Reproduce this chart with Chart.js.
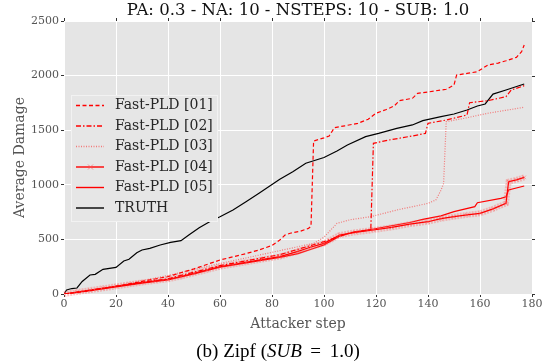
<!DOCTYPE html>
<html>
<head>
<meta charset="utf-8">
<script src="https://cdn.jsdelivr.net/npm/chart.js@4.4.1/dist/chart.umd.min.js"></script>
<style>
  body { margin: 0; background: #fff; }
  #wrap { position: relative; width: 550px; height: 364px; }
  #title { position: absolute; left: 64px; width: 468px; top: 0px; text-align: center;
           font: 16.5px "DejaVu Serif"; color: #111; white-space: nowrap; }
  #caption { position: absolute; left: 0; width: 556px; top: 340px; text-align: center;
             font: 19px "Liberation Serif"; color: #000; white-space: nowrap; }
</style>
</head>
<body>
<div id="wrap">
  <canvas id="myChart" width="550" height="364"></canvas>
  <div id="title">PA: 0.3 - NA: 10 - NSTEPS: 10 - SUB: 1.0</div>
  <div id="caption">(b) Zipf (<i>SUB</i>&thinsp; = &thinsp;1.0)</div>
</div>
<script>
// values (attacker step, average damage)
var labels = ['Fast-PLD [01]', 'Fast-PLD [02]', 'Fast-PLD [03]', 'Fast-PLD [04]', 'Fast-PLD [05]', 'TRUTH'];

var steps01 = [0, 10, 20, 30, 40, 50, 60, 70, 75, 80, 83, 85, 87, 91, 94, 95, 96, 100, 102, 104, 108, 113, 117, 120, 124, 127, 129, 134, 136, 140, 147, 150, 151, 155, 159, 163, 167, 170, 174, 176, 177];
var dmg01   = [0, 30, 70, 115, 160, 230, 311, 370, 403, 445, 494, 540, 556, 575, 601, 620, 1401, 1430, 1447, 1523, 1540, 1563, 1600, 1655, 1690, 1722, 1770, 1792, 1838, 1850, 1875, 1914, 2005, 2020, 2036, 2097, 2115, 2136, 2167, 2219, 2280];

var steps02 = [0, 20, 40, 60, 83, 100, 110, 118, 119, 125, 134, 139, 140, 147, 155, 156, 163, 170, 172, 177];
var dmg02   = [0, 70, 140, 260, 360, 480, 560, 590, 1380, 1410, 1447, 1471, 1563, 1593, 1639, 1752, 1770, 1807, 1868, 1908];

var steps03 = [0, 20, 40, 60, 70, 83, 96, 100, 102, 105, 110, 118, 128, 140, 143, 145, 146, 147, 154, 163, 177];
var dmg03   = [0, 75, 170, 280, 330, 397, 464, 520, 571, 647, 680, 708, 769, 830, 861, 950, 1013, 1578, 1609, 1655, 1710];

var steps04 = [0, 5, 10, 15, 20, 25, 30, 35, 40, 45, 50, 55, 60, 65, 70, 76, 83, 90, 95, 100, 106, 112, 119, 126, 133, 140, 145, 150, 155, 160, 165, 170, 171, 174, 177];
var dmg04   = [0, 18, 35, 52, 70, 88, 105, 120, 135, 160, 190, 220, 250, 270, 290, 315, 342, 390, 430, 464, 540, 565, 586, 610, 640, 662, 690, 708, 725, 739, 780, 830, 1028, 1045, 1068];

var steps05 = [0, 10, 20, 30, 40, 50, 60, 70, 83, 90, 95, 100, 106, 112, 119, 126, 133, 138, 145, 150, 158, 159, 168, 170, 171, 177];
var dmg05   = [0, 30, 65, 100, 128, 185, 245, 285, 335, 370, 410, 450, 530, 570, 595, 625, 655, 683, 715, 754, 800, 836, 876, 891, 952, 989];

var stepsTruth = [0, 1, 3, 5, 7, 10, 12, 15, 20, 23, 25, 28, 30, 33, 37, 41, 45, 48, 52, 56, 60, 65, 70, 75, 83, 88, 93, 100, 105, 109, 116, 121, 128, 134, 138, 145, 150, 155, 159, 162, 165, 170, 177];
var dmgTruth   = [0, 37, 50, 55, 115, 174, 180, 226, 244, 302, 318, 378, 403, 418, 449, 473, 488, 540, 607, 662, 708, 769, 845, 922, 1050, 1120, 1197, 1250, 1310, 1364, 1441, 1471, 1517, 1548, 1587, 1624, 1648, 1685, 1722, 1740, 1831, 1868, 1923];

var xTicks = [0, 20, 40, 60, 80, 100, 120, 140, 160, 180];
var yTicks = [0, 500, 1000, 1500, 2000, 2500];

function pts(xs, ys) {
    return xs.map(function (x, i) { return {x: x, y: ys[i]}; });
}

Chart.defaults.font.family = 'DejaVu Serif';

// wide light band under [04] that stands for its dense x markers
var bandPlugin = {
    id: 'band',
    beforeDatasetDraw: function (chart, args) {
        if (args.index !== 3) return;
        var meta = args.meta, ctx = chart.ctx;
        ctx.save();
        ctx.beginPath();
        meta.data.forEach(function (p, i) { if (i === 0) ctx.moveTo(p.x, p.y); else ctx.lineTo(p.x, p.y); });
        ctx.strokeStyle = 'rgba(255,90,90,0.35)';
        ctx.lineWidth = 6;
        ctx.setLineDash([2, 1]);
        ctx.stroke();
        ctx.restore();
    }
};

// legend inside the axes + small ticks on top and right
var boxPlugin = {
    id: 'box',
    afterDatasetsDraw: function (chart) {
        var ctx = chart.ctx, a = chart.chartArea;
        ctx.save();
        ctx.strokeStyle = '#333';
        ctx.lineWidth = 1;
        xTicks.forEach(function (t) {
            var x = Math.round(chart.scales.x.getPixelForValue(t)) + 0.5;
            ctx.beginPath(); ctx.moveTo(x, a.top); ctx.lineTo(x, a.top - 3); ctx.stroke();
        });
        yTicks.forEach(function (t) {
            var y = Math.round(chart.scales.y.getPixelForValue(t)) + 0.5;
            ctx.beginPath(); ctx.moveTo(a.right, y); ctx.lineTo(a.right + 3, y); ctx.stroke();
        });
        // legend
        var bx = 71, by = 95, bw = 146, bh = 126;
        ctx.fillStyle = '#e6e6e6';
        ctx.fillRect(bx, by, bw, bh);
        ctx.strokeStyle = '#f2f2f2';
        ctx.strokeRect(bx + 0.5, by + 0.5, bw, bh);
        ctx.font = '14px "DejaVu Serif"';
        ctx.textBaseline = 'middle';
        chart.data.datasets.forEach(function (ds, i) {
            var y = 105.5 + i * 20.5;
            ctx.beginPath();
            ctx.setLineDash(ds.borderDash || []);
            ctx.strokeStyle = ds.borderColor;
            ctx.lineWidth = ds.borderWidth + 0.2;
            ctx.moveTo(76, y); ctx.lineTo(104, y);
            ctx.stroke();
            ctx.setLineDash([]);
            if (i === 3) {
                ctx.strokeStyle = 'rgba(255,80,80,0.6)';
                ctx.lineWidth = 1;
                ctx.beginPath();
                ctx.moveTo(88, y - 2.5); ctx.lineTo(93, y + 2.5);
                ctx.moveTo(93, y - 2.5); ctx.lineTo(88, y + 2.5);
                ctx.stroke();
            }
            ctx.fillStyle = '#262626';
            ctx.fillText(ds.label, 115, y);
        });
        ctx.restore();
    }
};

var ctx = document.getElementById('myChart').getContext('2d');
var chart = new Chart(ctx, {
    type: 'line',
    data: {
        datasets: [
            {label: labels[0], data: pts(steps01, dmg01), borderColor: '#ff0000', borderWidth: 1.2, borderDash: [4, 2.5], pointRadius: 0},
            {label: labels[1], data: pts(steps02, dmg02), borderColor: '#ff0000', borderWidth: 1.2, borderDash: [5, 2, 1.5, 2], pointRadius: 0},
            {label: labels[2], data: pts(steps03, dmg03), borderColor: '#f27a7a', borderWidth: 1.2, borderDash: [1, 1.5], pointRadius: 0},
            {label: labels[3], data: pts(steps04, dmg04), borderColor: '#ff0000', borderWidth: 1.2, pointStyle: 'crossRot', pointRadius: 2.5, pointBorderColor: 'rgba(255,80,80,0.5)', pointBorderWidth: 1},
            {label: labels[4], data: pts(steps05, dmg05), borderColor: '#ff0000', borderWidth: 1.2, pointRadius: 0},
            {label: labels[5], data: pts(stepsTruth, dmgTruth), borderColor: '#000000', borderWidth: 1.2, pointRadius: 0}
        ]
    },
    options: {
        responsive: false,
        animation: false,
        events: [],
        layout: {padding: {left: 12, right: 18, top: 21, bottom: 30}},
        elements: {line: {tension: 0}},
        plugins: {legend: {display: false}, title: {display: false}, tooltip: {enabled: false}},
        scales: {
            x: {
                type: 'linear', min: 0, max: 180,
                afterBuildTicks: function (s) { s.ticks = xTicks.map(function (v) { return {value: v}; }); },
                afterFit: function (s) { s.height = 40; },
                grid: {color: '#ffffff', lineWidth: 1, tickColor: '#333', tickLength: 3},
                border: {display: false},
                ticks: {color: '#555', font: {size: 11}, padding: 1, maxRotation: 0, callback: function (v) { return String(v); }},
                title: {display: true, text: 'Attacker step', color: '#555', font: {size: 14}, padding: {top: 0, bottom: 1}}
            },
            y: {
                min: 0, max: 2500,
                afterBuildTicks: function (s) { s.ticks = yTicks.map(function (v) { return {value: v}; }); },
                afterFit: function (s) { s.width = 52; },
                grid: {color: '#ffffff', lineWidth: 1, tickColor: '#333', tickLength: 3},
                border: {display: false},
                ticks: {color: '#555', font: {size: 11}, padding: 2, callback: function (v) { return String(v); }},
                title: {display: true, text: 'Average Damage', color: '#555', font: {size: 14}, padding: {top: 0, bottom: 0}}
            }
        }
    },
    plugins: [bandPlugin, boxPlugin, {
        id: 'bg',
        beforeDraw: function (c) {
            var a = c.chartArea;
            c.ctx.save();
            c.ctx.fillStyle = '#e5e5e5';
            c.ctx.fillRect(a.left, a.top, a.right - a.left, a.bottom - a.top);
            c.ctx.restore();
        }
    }]
});
</script>
</body>
</html>
